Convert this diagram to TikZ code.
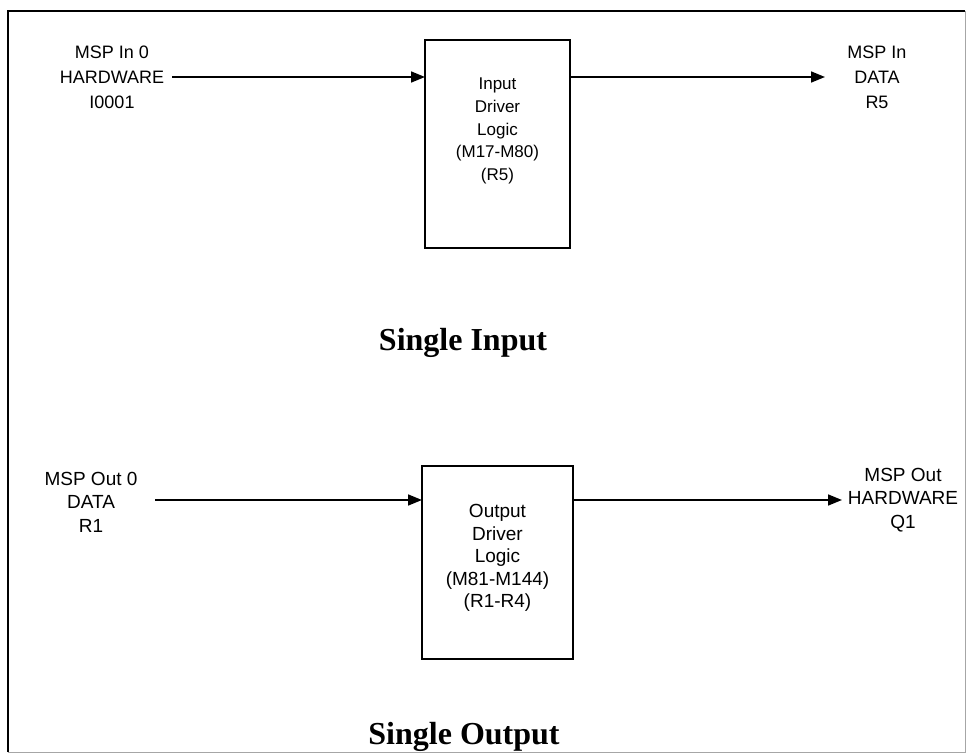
\documentclass[tikz,border=0pt]{standalone}
\usepackage{fontspec}
\setmainfont{Liberation Serif}
\newfontfamily\arialf{Liberation Sans}
\usetikzlibrary{arrows.meta}
\begin{document}
\begin{tikzpicture}[x=1pt,y=-1pt,
  blockbox/.style={draw,line width=2.6pt,minimum width=#1},
  lbl/.style={font=\arialf\fontsize{18}{25}\selectfont,align=center,inner sep=0pt},
  boxtxt/.style={font=\arialf\fontsize{17}{22.8}\selectfont,align=center,inner sep=0pt},
  ttl/.style={font=\bfseries\fontsize{32}{36}\selectfont,inner sep=0pt},
  conn/.style={line width=1.6pt,-{Triangle[length=14pt,width=11pt]}}]
\useasboundingbox (0,0) rectangle (967,754);
% frame
\draw[line width=2.6pt] (8,752) -- (8,11) -- (965,11);
\draw[line width=0.8pt,black!35] (965,11) -- (965,752) -- (8,752);
% single input
\draw[line width=2.6pt] (425,40) rectangle (570,248);
\coordinate (inL) at (425,77);
\coordinate (inR) at (570,77);
\node[boxtxt] (intext) at (497.5,131) {Input\\Driver\\Logic\\(M17-M80)\\(R5)};
\node[lbl] (inhw) at (112,77) {MSP In 0\\HARDWARE\\I0001};
\node[lbl] (indata) at (877,77) {MSP In\\DATA\\R5};
\coordinate (inhwE) at (172,77);
\coordinate (indataW) at (825,77);
\draw[conn] (inhwE) -- (inL);
\draw[conn] (inR) -- (indataW);
\node[ttl] (t1) at (463,343) {Single Input};
% single output
\draw[line width=2.6pt] (422,466) rectangle (573,659);
\coordinate (outL) at (422,500);
\coordinate (outR) at (573,500);
\node[boxtxt,font=\arialf\fontsize{19}{22.6}\selectfont] (outtext) at (497.5,558) {Output\\Driver\\Logic\\(M81-M144)\\(R1-R4)};
\node[lbl,font=\arialf\fontsize{19}{23.5}\selectfont] (outdata) at (91,502) {MSP Out 0\\DATA\\R1};
\node[lbl,font=\arialf\fontsize{19}{23.5}\selectfont] (outhw) at (903,500) {MSP Out\\HARDWARE\\Q1};
\coordinate (outdataE) at (155,500);
\coordinate (outhwW) at (842,500);
\draw[conn] (outdataE) -- (outL);
\draw[conn] (outR) -- (outhwW);
\node[ttl] (t2) at (464,737) {Single Output};
\end{tikzpicture}
\end{document}
